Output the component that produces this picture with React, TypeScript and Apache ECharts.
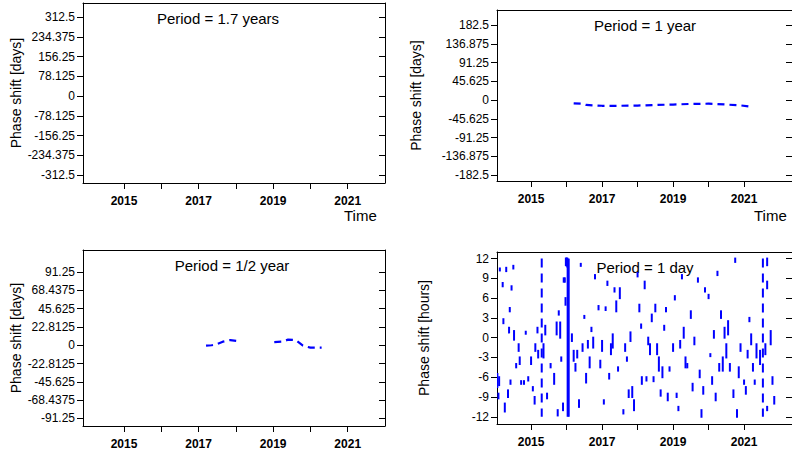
import React, { useEffect, useRef } from 'react';
import * as echarts from 'echarts';

const yearTicks = [2015, 2016, 2017, 2018, 2019, 2020, 2021];
const yearLabels = [2015, 2017, 2019, 2021];

const ticks17 = [-312.5, -234.375, -156.25, -78.125, 0, 78.125, 156.25, 234.375, 312.5];
const ticks1y = [-182.5, -136.875, -91.25, -45.625, 0, 45.625, 91.25, 136.875, 182.5];
const ticksHalf = [-91.25, -68.4375, -45.625, -22.8125, 0, 22.8125, 45.625, 68.4375, 91.25];
const ticksDay = [-12, -9, -6, -3, 0, 3, 6, 9, 12];

// period = 1 year
const oneYear: [number, number][] = [
    [2016.2, -8], [2016.4, -9], [2016.55, -12], [2017, -14], [2017.5, -14], [2018, -13.5],
    [2018.5, -12], [2019, -11], [2019.5, -9.5], [2020, -9], [2020.5, -11], [2020.9, -13], [2021.25, -17],
];

// period = 1/2 year, segments
const halfYear: [number, number][][] = [
    [[2017.2, -0.5], [2017.35, 0], [2017.5, 1.5], [2017.65, 4.5], [2017.85, 6.5], [2018.1, 5]],
    [[2019.03, 4], [2019.25, 4.5], [2019.4, 7], [2019.6, 6.5], [2019.8, -0.5], [2020.0, -3], [2020.3, -3]],
];

// period = 1 day: short dashes [year, from, to] in hours
const dayDashes: [number, number, number][] = [
    [2014.05, -5.5, -7.5], [2014.1, -6, -7.2], [2014.08, -8.5, -9.2], [2014.12, 10.5, 10.2], [2014.2, 8.3, 7.8],
    [2014.22, 2.8, 2.2], [2014.26, -10, -11.2], [2014.3, 10.6, 10.1], [2014.35, -8, -9], [2014.38, 1.5, 0.8],
    [2014.4, 4.5, 4], [2014.42, -6.5, -7], [2014.45, 7.8, 7.3], [2014.5, 10.9, 10.5], [2014.52, 1, -0.3],
    [2014.58, -4, -4.5], [2014.65, -1, -2], [2014.68, -3, -4], [2014.72, -6.6, -7], [2014.8, -6.6, -7],
    [2014.85, 0.9, 0.6], [2014.92, -6, -6.5], [2015.0, -3, -4], [2015.05, -7.5, -8], [2015.1, -9, -10],
    [2015.12, -1, -2], [2015.18, 1.5, 0.8], [2015.2, -2, -3], [2015.35, -1, -3], [2015.4, 1.8, 0.5],
    [2015.45, -8.5, -9.2], [2015.55, -4, -4.5], [2015.65, -5.5, -7], [2015.72, 2.3, 0.5], [2015.75, -11, -11.8],
    [2015.78, 4, 3.5], [2015.82, 2.3, 0], [2015.85, -3, -3.5], [2015.9, -10, -11], [2015.92, 9, 8.5],
    [2016.15, 0.5, -0.5], [2016.2, -2, -3.5], [2016.25, -4, -5], [2016.3, -2, -3], [2016.35, -9.5, -10.5],
    [2016.4, 11.2, 10.9], [2016.45, -1, -2], [2016.5, 3.3, 3], [2016.55, -5.5, -6.8], [2016.6, -0.5, -1.5],
    [2016.65, -3, -4.5], [2016.7, 1.5, 1], [2016.75, 0, -1.5], [2016.8, 9.5, 9], [2016.9, 4.8, 4.3],
    [2016.95, -3.5, -4.5], [2017.0, -0.5, -2], [2017.05, -9.5, -10], [2017.1, 4.6, 4.2], [2017.15, 8.5, 8],
    [2017.2, -5.5, -6.2], [2017.25, -1, -2.5], [2017.3, 0.5, -1.5], [2017.35, 7.5, 7], [2017.4, 5.5, 4],
    [2017.45, -4.5, -5], [2017.5, 7.5, 6], [2017.6, -11, -11.5], [2017.65, -1, -2], [2017.7, -3, -3.5],
    [2017.75, -8, -9], [2017.8, 0.8, -0.5], [2017.85, -7.5, -9], [2017.9, -9.5, -11], [2018.0, 9.8, 9.3],
    [2018.05, 5, 4], [2018.1, 2, 1.5], [2018.12, -6, -7], [2018.2, 8.5, 7.5], [2018.25, -6, -6.5],
    [2018.3, 0, -1], [2018.35, -1, -2.5], [2018.4, 3.5, 2.5], [2018.45, -6, -6.6], [2018.5, 5, 4],
    [2018.55, -1, -2.5], [2018.6, -3, -5], [2018.65, -8, -8.8], [2018.7, -4.5, -6], [2018.75, 1.8, 1.2],
    [2018.8, 4.5, 4], [2018.85, -8.5, -9.5], [2018.9, -4.5, -5], [2019.0, -1, -2], [2019.05, 6.3, 5.8],
    [2019.1, -8.5, -9], [2019.15, -10.5, -11], [2019.2, -0.5, -1.5], [2019.25, 9.5, 9], [2019.3, 1.5, 0],
    [2019.35, -3, -4.5], [2019.4, -4, -4.5], [2019.5, 4, 3], [2019.55, -7, -8], [2019.6, 0, -1],
    [2019.7, 9, 8.5], [2019.75, -5, -6], [2019.8, -11, -12], [2019.85, -7.5, -8.5], [2019.9, 7.5, 7],
    [2020.0, 6.5, 6], [2020.05, -2.5, -2.8], [2020.1, -6, -7], [2020.15, 1, 0], [2020.2, -8.5, -9.5],
    [2020.25, 10, 9.5], [2020.3, -4, -5], [2020.35, 4, 3], [2020.4, -3, -5], [2020.45, 1.5, 0],
    [2020.5, -1, -3], [2020.55, 2.5, 0.5], [2020.6, -4, -5], [2020.7, -8, -9], [2020.75, 12, 11.5],
    [2020.8, -11, -12], [2020.85, -4.5, -6], [2020.9, -1, -2], [2021.0, -6.5, -7], [2021.05, -7.5, -8.5],
    [2021.1, -2, -3], [2021.15, 3, 2.5], [2021.2, 0.5, -1], [2021.25, -4, -5], [2021.3, -6.5, -7],
    [2021.35, -1, -3], [2021.45, -2, -4], [2021.6, -1, -2.5], [2021.65, 12, 11], [2021.65, 8.5, 7.5],
    [2021.65, -10.5, -11], [2021.75, 1, -1], [2021.8, -6, -7], [2021.85, -9, -10],
    [2015.98, 12, 11], [2016.0, 12, 11], [2016.02, 12, 10.8], [2015.95, 9, 8.5], [2015.97, 6, 5],
];
// full-height dashed columns
const dayColumnsDashed = [2015.3, 2021.53];
const dayColumnsSolid = [2016.03, 2016.06];

const FONT = 'Liberation Sans';
const tickLabel = { fontFamily: FONT, fontSize: 12, color: '#000' };

const grids = [
    { left: 83, top: 3, width: 302, height: 180 },
    { left: 497, top: 10, width: 310, height: 171 },
    { left: 83, top: 250, width: 302, height: 176 },
    { left: 497, top: 252, width: 310, height: 172 },
];
const xRanges = [[2013.9, 2022.0], [2014.04, 2022.35], [2013.9, 2022.0], [2014.04, 2022.35]];
const yRanges = [[-344, 368], [-197, 219], [-100.6, 118.7], [-13.1, 13]];
const yTicks = [ticks17, ticks1y, ticksHalf, ticksDay];
const yNames = ['Phase shift [days]', 'Phase shift [days]', 'Phase shift [days]', 'Phase shift [hours]'];
const titles = ['Period = 1.7 years', 'Period = 1 year', 'Period = 1/2 year', 'Period = 1 day'];
const titleX = [218, 645, 232, 645];
const nameGaps = [60, 74, 60, 66];

const axisLine = { show: true, onZero: false, lineStyle: { color: '#000', width: 1 } };

const App: React.FC = () => {
    const chartRef = useRef<HTMLDivElement>(null);

    useEffect(() => {
        if (!chartRef.current) return;
        const chart = echarts.init(chartRef.current, null, { renderer: 'svg' });

        const xAxis: any[] = [];
        const yAxis: any[] = [];
        grids.forEach((_, i) => {
            xAxis.push({
                type: 'value', gridIndex: i, min: xRanges[i][0], max: xRanges[i][1],
                axisLine, splitLine: { show: false },
                axisTick: { show: true, length: 6, customValues: yearTicks, lineStyle: { color: '#000' } },
                axisLabel: { ...tickLabel, fontWeight: 'bold', margin: 12, customValues: yearLabels, formatter: (v: number) => String(v) },
            });
            xAxis.push({
                type: 'value', gridIndex: i, position: 'top', min: xRanges[i][0], max: xRanges[i][1],
                axisLine, axisTick: { show: false }, axisLabel: { show: false }, splitLine: { show: false },
            });
            yAxis.push({
                type: 'value', gridIndex: i, min: yRanges[i][0], max: yRanges[i][1],
                axisLine, splitLine: { show: false },
                axisTick: { show: true, length: 6, customValues: yTicks[i], lineStyle: { color: '#000' } },
                axisLabel: { ...tickLabel, margin: 8, customValues: yTicks[i], formatter: (v: number) => String(v) },
                name: yNames[i], nameLocation: 'middle', nameRotate: 90, nameGap: nameGaps[i],
                nameMoveOverlap: false,
                nameTextStyle: { fontFamily: FONT, fontSize: 14, color: '#000' },
            });
            yAxis.push({
                type: 'value', gridIndex: i, position: 'right', min: yRanges[i][0], max: yRanges[i][1],
                axisLine, splitLine: { show: false }, axisLabel: { show: false },
                axisTick: { show: true, inside: true, length: 6, customValues: yTicks[i], lineStyle: { color: '#000' } },
            });
        });

        const blue = '#0000ff';
        const series: any[] = [];
        series.push({
            type: 'line', xAxisIndex: 2, yAxisIndex: 2, data: oneYear, showSymbol: false,
            lineStyle: { color: blue, width: 2.2, type: [7, 5] },
        });
        halfYear.forEach((seg) => series.push({
            type: 'line', xAxisIndex: 4, yAxisIndex: 4, data: seg, showSymbol: false,
            lineStyle: { color: blue, width: 2.2, type: [7, 5] },
        }));
        series.push({
            type: 'custom', xAxisIndex: 6, yAxisIndex: 6, data: dayDashes, clip: true,
            renderItem: (_p: any, api: any) => {
                const a = api.coord([api.value(0), api.value(1)]);
                const b = api.coord([api.value(0), api.value(2)]);
                return { type: 'line', shape: { x1: a[0], y1: a[1] - 1, x2: b[0], y2: b[1] + 1 }, style: { stroke: blue, lineWidth: 2 } };
            },
        });
        dayColumnsDashed.forEach((x) => series.push({
            type: 'line', xAxisIndex: 6, yAxisIndex: 6, data: [[x, 12], [x, -12]], showSymbol: false,
            lineStyle: { color: blue, width: 2, type: [9, 6] },
        }));
        dayColumnsSolid.forEach((x) => series.push({
            type: 'line', xAxisIndex: 6, yAxisIndex: 6, data: [[x, 12], [x, -12]], showSymbol: false,
            lineStyle: { color: blue, width: 2 },
        }));

        const graphic: any[] = titles.map((t, i) => ({
            type: 'text', x: titleX[i], y: grids[i].top + 8,
            style: { text: t, font: `15px "${FONT}"`, fill: '#000', align: 'center' },
        }));
        graphic.push({ type: 'text', x: 344, y: 208, style: { text: 'Time', font: `15px "${FONT}"`, fill: '#000' } });
        graphic.push({ type: 'text', x: 754, y: 208, style: { text: 'Time', font: `15px "${FONT}"`, fill: '#000' } });

        chart.setOption({
            animation: false,
            backgroundColor: '#fff',
            grid: grids,
            xAxis,
            yAxis,
            series,
            graphic,
        });

        return () => {
            chart.dispose();
        };
    }, []);

    return <div ref={chartRef} style={{ position: 'absolute', left: 0, top: 0, width: '792px', height: '452px' }} />;
};

export default App;
